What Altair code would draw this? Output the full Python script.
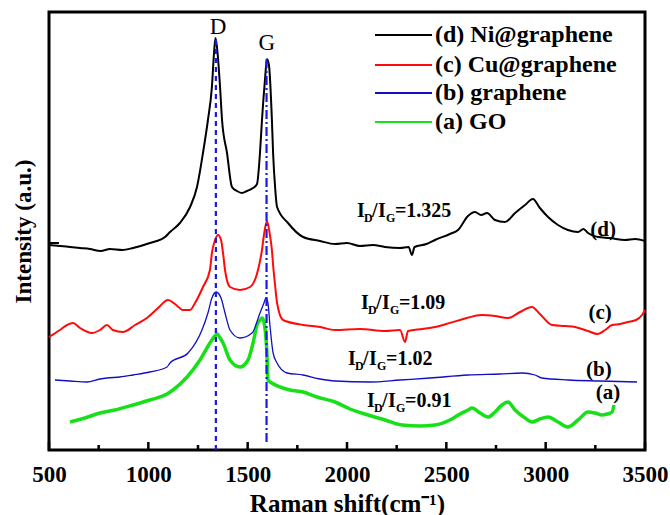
import altair as alt
import pandas as pd

# ---------------- data (Raman spectra, arbitrary intensity units) ----------------
d_shift = [500, 556, 606, 656, 706, 760, 807, 870, 923, 1008, 1084, 1109, 1159, 1210, 1245, 1275, 1300, 1320, 1331, 1338, 1346, 1361, 1371, 1396, 1421, 1446, 1471, 1497, 1527, 1547, 1562, 1572, 1587, 1597, 1607, 1622, 1628, 1638, 1648, 1703, 1779, 1864, 1940, 2000, 2065, 2130, 2191, 2267, 2310, 2327, 2340, 2400, 2443, 2518, 2559, 2609, 2644, 2675, 2705, 2745, 2795, 2846, 2896, 2936, 2971, 3012, 3062, 3112, 3163, 3190, 3213, 3263, 3324, 3399, 3450, 3500]
d_int = [205, 204, 203, 202, 201, 199, 201, 200, 202, 207, 213, 218, 227, 243, 263, 297, 330, 363, 398, 412, 402, 363, 330, 297, 263, 259, 257, 259, 262, 266, 297, 330, 370, 391, 385, 330, 297, 263, 243, 227, 213, 209, 206, 207, 204, 205, 203, 202, 203, 195, 203, 206, 210, 216, 220, 234, 238, 235, 237, 230, 228, 237, 245, 251, 242, 233, 225, 220, 218, 221, 217, 213, 212, 210, 211, 209]

c_shift = [500, 555, 591, 621, 656, 716, 757, 792, 822, 872, 933, 993, 1049, 1099, 1134, 1175, 1210, 1235, 1275, 1310, 1320, 1336, 1351, 1366, 1376, 1386, 1411, 1461, 1512, 1552, 1572, 1582, 1597, 1612, 1622, 1628, 1638, 1648, 1678, 1779, 1864, 1940, 2065, 2191, 2267, 2292, 2307, 2380, 2443, 2500, 2569, 2680, 2745, 2810, 2871, 2931, 2971, 3032, 3097, 3148, 3213, 3263, 3299, 3334, 3374, 3414, 3455, 3485, 3500]
c_int = [113, 120, 125, 127, 122, 117, 120, 125, 120, 118, 125, 132, 142, 150, 146, 140, 140, 147, 163, 180, 197, 210, 215, 210, 197, 180, 163, 160, 163, 180, 200, 215, 229, 215, 200, 185, 165, 147, 130, 125, 123, 120, 121, 119, 120, 108, 119, 121, 123, 126, 130, 135, 134, 132, 138, 143, 136, 125, 124, 123, 119, 116, 120, 125, 126, 128, 130, 135, 140]

b_shift = [530, 606, 691, 757, 792, 857, 923, 1008, 1094, 1109, 1200, 1270, 1300, 1320, 1341, 1366, 1386, 1411, 1461, 1522, 1562, 1582, 1592, 1602, 1612, 1628, 1648, 1698, 1779, 1864, 1940, 2116, 2267, 2418, 2609, 2770, 2881, 2946, 2981, 3112, 3273, 3460]
b_int = [70, 69, 68, 71, 72, 73, 75, 78, 83, 87, 97, 120, 137, 152, 158, 152, 137, 120, 112, 117, 137, 147, 152, 147, 125, 97, 87, 77, 75, 71, 69, 68, 70, 72, 75, 76, 77, 75, 72, 70, 69, 68]

a_shift = [606, 681, 757, 832, 923, 1008, 1094, 1124, 1195, 1260, 1310, 1331, 1346, 1361, 1376, 1411, 1461, 1502, 1527, 1547, 1562, 1572, 1582, 1592, 1597, 1602, 1622, 1713, 1779, 1849, 1940, 2015, 2106, 2191, 2277, 2367, 2443, 2518, 2569, 2609, 2629, 2670, 2710, 2745, 2780, 2810, 2846, 2896, 2931, 2971, 3012, 3062, 3112, 3163, 3213, 3248, 3284, 3309, 3334, 3344]
a_int = [28, 32, 37, 40, 45, 50, 56, 60, 73, 90, 107, 113, 116, 112, 107, 90, 83, 90, 107, 125, 130, 132, 128, 112, 97, 70, 67, 60, 58, 53, 48, 41, 35, 30, 25, 24, 25, 30, 36, 40, 42, 37, 33, 38, 45, 48, 40, 32, 28, 31, 33, 28, 23, 30, 38, 37, 35, 36, 38, 45]

series_names = ["(d) Ni@graphene", "(c) Cu@graphene", "(b) graphene", "(a) GO"]
series_colors = ["#000000", "#ff0a0a", "#1010c0", "#18e018"]
series_widths = [2.0, 2.0, 1.3, 3.5]
series_data = [(d_shift, d_int), (c_shift, c_int), (b_shift, b_int), (a_shift, a_int)]

x_ticks_major = [500, 1000, 1500, 2000, 2500, 3000, 3500]
x_ticks_minor = [750, 1250, 1750, 2250, 2750, 3250]

peak_labels = ["D", "G"]
peak_x = [1351, 1597]
peak_y = [423, 407]

ratio_texts = ["=1.325", "=1.09", "=1.02", "=0.91"]
ratio_x = [2050, 2070, 2005, 2101]
ratio_y = [233, 141, 85, 43]

curve_tags = ["(d)", "(c)", "(b)", "(a)"]
tag_x = [3289, 3274, 3268, 3314]
tag_y = [220, 137, 80, 57]

legend_y = [415, 385, 357, 328]

FONT = "Liberation Serif"
W, H = 596, 438
xs = alt.Scale(domain=[500, 3500], nice=False, zero=False)
ys = alt.Scale(domain=[0, 438], nice=False, zero=False)

x_axis = alt.Axis(title="Raman shift(cm⁻¹)", values=x_ticks_major, format="d",
                  labelFont=FONT, labelFontSize=23, labelFontWeight="bold", labelColor="black",
                  ticks=False, domain=False, grid=False, labelPadding=13, labelFlush=False,
                  labelOverlap=False, titleFont=FONT, titleFontSize=25, titleFontWeight="bold",
                  titleColor="black", titlePadding=5)
y_axis = alt.Axis(title="Intensity (a.u.)", labels=False, ticks=False, domain=False, grid=False,
                  titleFont=FONT, titleFontSize=23, titleFontWeight="bold", titleColor="black",
                  titlePadding=14)


def X(field):
    return alt.X(field, scale=xs, axis=x_axis)


def Y(field):
    return alt.Y(field, scale=ys, axis=y_axis)


layers = []
# spectra (draw GO first so others on top)
for i in [3, 2, 1, 0]:
    sx, sy = series_data[i]
    df = pd.DataFrame({"shift": sx, "intensity": sy})
    layers.append(
        alt.Chart(df).mark_line(color=series_colors[i], strokeWidth=series_widths[i], interpolate="monotone")
        .encode(x=X("shift:Q"), y=Y("intensity:Q"))
    )

# vertical guide lines at D and G
dline = pd.DataFrame({"x": [1340], "y": [0], "y2": [410]})
gline = pd.DataFrame({"x": [1595], "y": [8], "y2": [392]})
layers.append(alt.Chart(dline).mark_rule(color="#1a1ae6", strokeWidth=2.2, strokeDash=[5, 4])
              .encode(x=X("x:Q"), y=Y("y:Q"), y2="y2:Q"))
layers.append(alt.Chart(gline).mark_rule(color="#1a1ae6", strokeWidth=2.2, strokeDash=[9, 3, 2, 3])
              .encode(x=X("x:Q"), y=Y("y:Q"), y2="y2:Q"))

# inward ticks
tmaj = pd.DataFrame({"x": x_ticks_major, "y": [0] * len(x_ticks_major), "y2": [8] * len(x_ticks_major)})
tmin = pd.DataFrame({"x": x_ticks_minor, "y": [0] * len(x_ticks_minor), "y2": [5] * len(x_ticks_minor)})
for t in (tmaj, tmin):
    layers.append(alt.Chart(t).mark_rule(color="black", strokeWidth=2.5)
                  .encode(x=X("x:Q"), y=Y("y:Q"), y2="y2:Q"))
ytick = pd.DataFrame({"x": [500], "x2": [550], "y": [207]})
layers.append(alt.Chart(ytick).mark_rule(color="black", strokeWidth=2)
              .encode(x=X("x:Q"), x2="x2:Q", y=Y("y:Q")))

# peak labels
pk = pd.DataFrame({"x": peak_x, "y": peak_y, "t": peak_labels})
layers.append(alt.Chart(pk).mark_text(font=FONT, fontSize=23, color="black", baseline="middle", align="center")
              .encode(x=X("x:Q"), y=Y("y:Q"), text="t:N"))

# I_D/I_G annotations
ann = pd.DataFrame({"x": ratio_x, "y": ratio_y, "r": ratio_texts})
pieces = [("I", 0, 0, 20), ("D", 7, 5, 12), ("/", 15, 0, 20), ("I", 21, 0, 20), ("G", 29, 5, 12)]
for txt, dx, dy, fs in pieces:
    layers.append(alt.Chart(ann).mark_text(text=txt, dx=dx, dy=dy, font=FONT, fontSize=fs, fontWeight="bold",
                                           color="black", align="left", baseline="alphabetic")
                  .encode(x=X("x:Q"), y=Y("y:Q")))
layers.append(alt.Chart(ann).mark_text(dx=38, font=FONT, fontSize=20, fontWeight="bold",
                                       color="black", align="left", baseline="alphabetic")
              .encode(x=X("x:Q"), y=Y("y:Q"), text="r:N"))

# curve tags
tg = pd.DataFrame({"x": tag_x, "y": tag_y, "t": curve_tags})
layers.append(alt.Chart(tg).mark_text(font=FONT, fontSize=21, fontWeight="bold", color="black",
                                      align="center", baseline="middle")
              .encode(x=X("x:Q"), y=Y("y:Q"), text="t:N"))

# legend
lg = pd.DataFrame({"x1": [2141] * 4, "x2": [2428] * 4, "xt": [2443] * 4, "y": legend_y,
                   "label": series_names, "color": series_colors})
layers.append(alt.Chart(lg).mark_rule(strokeWidth=2)
              .encode(x=X("x1:Q"), x2="x2:Q", y=Y("y:Q"),
                      color=alt.Color("color:N", scale=None)))
layers.append(alt.Chart(lg).mark_text(font=FONT, fontSize=24, fontWeight="bold", color="black",
                                      align="left", baseline="middle")
              .encode(x=X("xt:Q"), y=Y("y:Q"), text="label:N"))

chart = alt.layer(*layers).properties(
    width=W, height=H,
    autosize=alt.AutoSizeParams(type="none"),
    padding={"left": 49, "top": 12, "right": 25, "bottom": 65},
    background="white",
).configure_view(stroke="black", strokeWidth=3)

chart.save("out.html", embed_options={"renderer": "svg", "actions": False})
